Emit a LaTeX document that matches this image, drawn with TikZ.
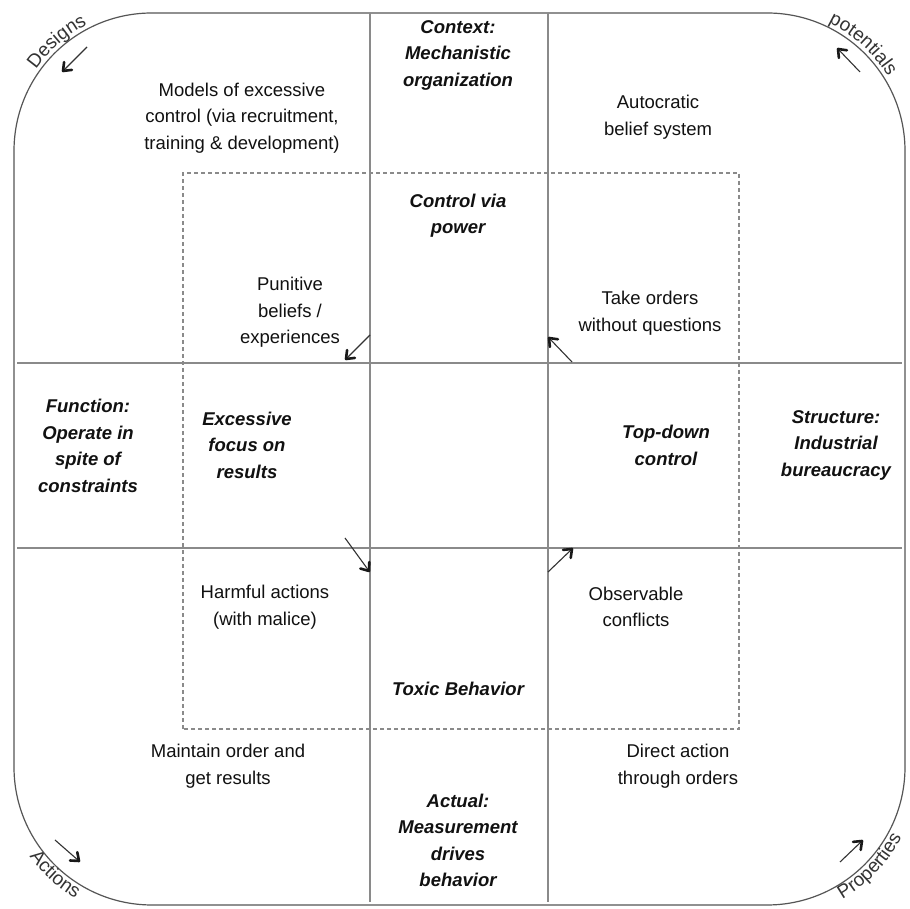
\documentclass[tikz,border=0pt]{standalone}
\usepackage{fontspec}
\setmainfont{Liberation Sans}
\usetikzlibrary{calc,decorations.text}
\definecolor{gridgray}{HTML}{8A8A8A}
\definecolor{framegray}{HTML}{555555}
\definecolor{txtcol}{HTML}{111111}
\newcommand{\myarrow}[2]{%
  \draw[shaft] (#1) -- (#2);
  \draw[barb] ($(#2)!9pt!38:(#1)$) -- (#2) -- ($(#2)!9pt!-38:(#1)$);}
\begin{document}
\begin{tikzpicture}[x=1pt,y=1pt,
  txt/.style={align=center, inner sep=0pt, text=txtcol, font=\fontsize{18.5}{26.5}\selectfont},
  bt/.style={align=center, inner sep=0pt, text=txtcol, font=\fontsize{18.5}{26.5}\selectfont\bfseries\itshape},
  gridline/.style={draw=gridgray, line width=1.5pt},
  frame/.style={draw=framegray, line width=1.2pt},
  dashbox/.style={draw=gridgray, line width=1.3pt, dash pattern=on 4pt off 3pt},
  shaft/.style={draw=black!80, line width=1.1pt},
  barb/.style={draw=black!90, line width=2.6pt, line cap=round, line join=round},
  cornertxt/.style={decorate, decoration={text along path, text align=center, text color=black!80}}
]
\useasboundingbox (0,0) rectangle (910,909);
\fill[white] (0,0) rectangle (910,909);

% outer frame
\draw[frame, rounded corners=138pt] (14,4) rectangle (905,896);

% grid lines
\coordinate (vLt) at (370,896); \coordinate (vLb) at (370,7);
\coordinate (vRt) at (548,896); \coordinate (vRb) at (548,7);
\coordinate (hTl) at (17,546); \coordinate (hTr) at (902,546);
\coordinate (hBl) at (17,361); \coordinate (hBr) at (902,361);
\draw[gridline] (vLt) -- (vLb);
\draw[gridline] (vRt) -- (vRb);
\draw[gridline] (hTl) -- (hTr);
\draw[gridline] (hBl) -- (hBr);

% dashed box
\draw[dashbox] (183,180) rectangle (739,736);

% inner arrows
\coordinate (a1s) at (370,574); \coordinate (a1e) at (346,550);
\coordinate (a2s) at (572,547); \coordinate (a2e) at (549,571);
\coordinate (a3s) at (345,371); \coordinate (a3e) at (369,338);
\coordinate (a4s) at (548,337); \coordinate (a4e) at (572,360);
\myarrow{a1s}{a1e}
\myarrow{a2s}{a2e}
\myarrow{a3s}{a3e}
\myarrow{a4s}{a4e}

% corner arrows
\coordinate (c1s) at (87,862); \coordinate (c1e) at (63,838);
\coordinate (c2s) at (860,837); \coordinate (c2e) at (838,860);
\coordinate (c3s) at (55,69); \coordinate (c3e) at (79,48);
\coordinate (c4s) at (840,47); \coordinate (c4e) at (862,68);
\myarrow{c1s}{c1e}
\myarrow{c2s}{c2e}
\myarrow{c3s}{c3e}
\myarrow{c4s}{c4e}

% corner texts
\coordinate (ctl) at (152,758);
\coordinate (ctr) at (767,758);
\coordinate (cbl) at (152,142);
\coordinate (cbr) at (767,142);
\path[cornertxt, decoration={text={|\fontsize{19}{19}\selectfont|Designs}}]
  (ctl) ++(166:142) arc (166:96:142);
\path[cornertxt, decoration={text={|\fontsize{19}{19}\selectfont|potentials}}]
  (ctr) ++(84:142) arc (84:12:142);
\path[cornertxt, decoration={text={|\fontsize{19}{19}\selectfont|Actions}}]
  (cbl) ++(194:152) arc (194:262:152);
\path[cornertxt, decoration={text={|\fontsize{19}{19}\selectfont|Properties}}]
  (cbr) ++(280:152) arc (280:352:152);

% texts
\node[bt]  (context)   at (458,854)   {Context:\\Mechanistic\\organization};
\node[txt] (models)    at (242,791)   {Models of excessive\\control (via recruitment,\\training \& development)};
\node[txt] (autocr)    at (658,792)   {Autocratic\\belief system};
\node[bt]  (control)   at (458,693.5) {Control via\\power};
\node[txt] (punitive)  at (290,596.5) {Punitive\\beliefs /\\experiences};
\node[txt] (orders)    at (650,596)   {Take orders\\without questions};
\node[bt]  (function)  at (88,463)    {Function:\\Operate in\\spite of\\constraints};
\node[bt]  (excessive) at (247,464)   {Excessive\\focus on\\results};
\node[bt]  (topdown)   at (666,463.5) {Top-down\\control};
\node[bt]  (structure) at (836,464)   {Structure:\\Industrial\\bureaucracy};
\node[txt] (harmful)   at (265,302)   {Harmful actions\\(with malice)};
\node[txt] (observ)    at (636,302)   {Observable\\conflicts};
\node[bt]  (toxic)     at (458,220)   {Toxic Behavior};
\node[txt] (maintain)  at (228,143)   {Maintain order and\\get results};
\node[txt] (direct)    at (678,143)   {Direct action\\through orders};
\node[bt]  (actual)    at (458,68.5)  {Actual:\\Measurement\\drives\\behavior};
\end{tikzpicture}
\end{document}
